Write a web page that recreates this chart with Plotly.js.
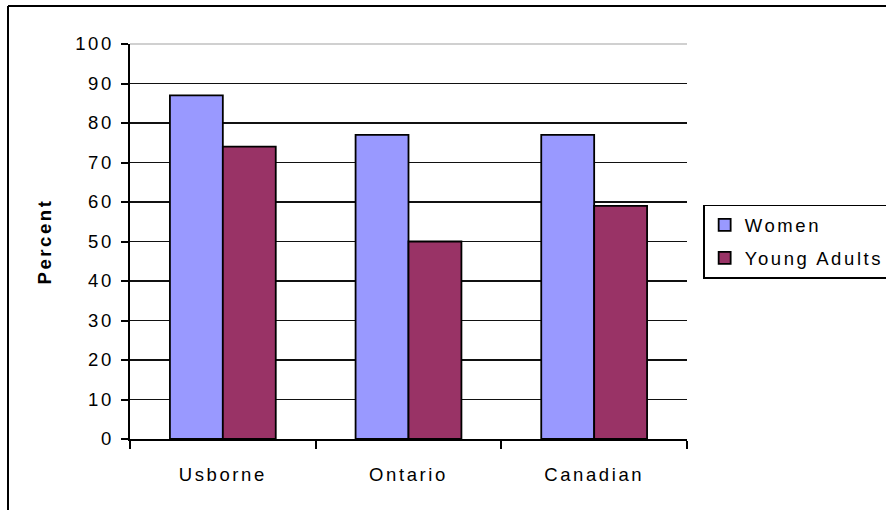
<!DOCTYPE html>
<html>
<head>
<meta charset="utf-8">
<script src="https://cdn.plot.ly/plotly-3.0.1.min.js"></script>
<style>
  html, body { margin: 0; padding: 0; background: #fff; }
  #chart { width: 886px; height: 510px; }
  svg text { letter-spacing: 2.6px; }
</style>
</head>
<body>
<div id="chart"></div>
<script>
const categories = ["Usborne", "Ontario", "Canadian"];
const womenValues = [87, 77, 77];
const youngAdultValues = [74, 50, 59];
const seriesNames = ["Women", "Young Adults"];
const yTickValues = [0, 10, 20, 30, 40, 50, 60, 70, 80, 90, 100];

const FONT = "Arial, 'Liberation Sans', sans-serif";

const traces = [
  {
    type: "bar", name: seriesNames[0], x: categories, y: womenValues,
    marker: { color: "#9999FF", line: { color: "#000000", width: 1.8 } },
    legendgroup: "a", hoverinfo: "x+y+name"
  },
  {
    type: "bar", name: seriesNames[1], x: categories, y: youngAdultValues,
    marker: { color: "#993366", line: { color: "#000000", width: 1.8 } },
    legendgroup: "b", hoverinfo: "x+y+name"
  }
];

const layout = {
  width: 886, height: 510,
  margin: { l: 130, r: 199, t: 44, b: 71, pad: 0, autoexpand: false },
  paper_bgcolor: "#ffffff", plot_bgcolor: "#ffffff",
  font: { family: FONT, size: 18.5, color: "#000000" },
  barmode: "group", bargap: 0.43, bargroupgap: 0,
  showlegend: true,
  legend: {
    x: 1.029, y: 0.593, xanchor: "left", yanchor: "top",
    bgcolor: "#ffffff", bordercolor: "#000000", borderwidth: 1.5,
    font: { family: FONT, size: 18.5, color: "#000000" },
    tracegroupgap: 6, traceorder: "grouped"
  },
  xaxis: {
    type: "category", tickson: "boundaries",
    ticks: "outside", ticklen: 8, tickwidth: 2, tickcolor: "#000000",
    showline: true, linecolor: "#000000", linewidth: 2,
    showgrid: false, zeroline: false, automargin: false,
    ticklabelstandoff: 18,
    tickfont: { family: FONT, size: 18.5, color: "#000000" }
  },
  yaxis: {
    range: [0, 100], tickmode: "array", tickvals: yTickValues,
    ticks: "outside", ticklen: 7, tickwidth: 2, tickcolor: "#000000",
    showline: true, linecolor: "#000000", linewidth: 2.5,
    showgrid: true, gridcolor: "#111111", gridwidth: 1.4,
    zeroline: false, automargin: false,
    ticklabelstandoff: 3,
    tickfont: { family: FONT, size: 18.5, color: "#000000" },
    title: { text: "<b>Percent</b>", font: { family: FONT, size: 18.5, color: "#000000" }, standoff: 19 }
  },
  shapes: [
    { type: "line", xref: "paper", yref: "paper", x0: 0, x1: 1, y0: 1, y1: 1,
      line: { color: "#c0c0c0", width: 1.5 }, layer: "above" },
    { type: "line", xref: "paper", yref: "paper", x0: -122/557, x1: 1.4, y0: 433/395, y1: 433/395,
      line: { color: "#000000", width: 2 } },
    { type: "line", xref: "paper", yref: "paper", x0: -122/557, x1: -122/557, y0: 433/395, y1: -0.3,
      line: { color: "#000000", width: 2 } }
  ]
};

Plotly.newPlot("chart", traces, layout, { staticPlot: true, displayModeBar: false });
</script>
</body>
</html>
